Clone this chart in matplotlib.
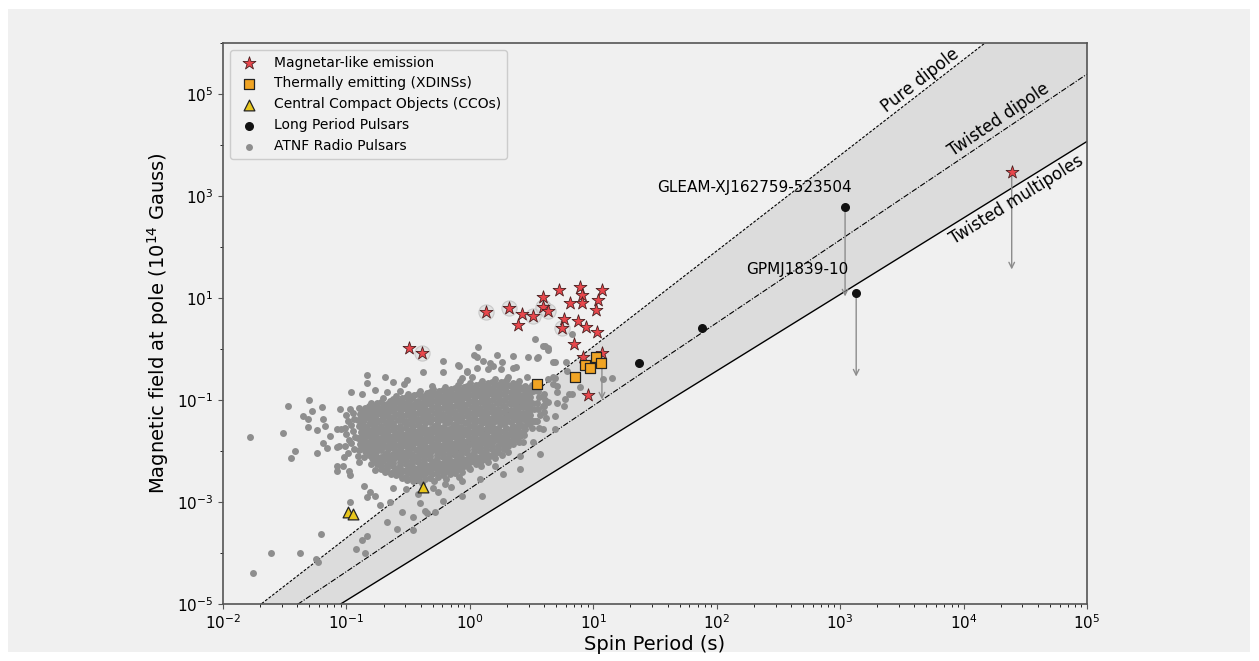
import numpy as np
import matplotlib.pyplot as plt
from matplotlib.patches import Rectangle
from matplotlib.ticker import LogLocator, NullFormatter

# all values as log10(P [s]) and log10(B [1e14 G])

# magnetar-like emitters
magnetar_logp = [-0.49, -0.39, 0.13, 0.32, 0.42, 0.39, 0.51, 0.59, 0.59, 0.63,
                 0.72, 0.81, 0.89, 0.91, 0.91, 1.07, 1.04, 1.02, 0.76, 0.75,
                 0.88, 0.94, 1.03, 0.84, 0.92, 1.07, 0.96, 4.39]
magnetar_logb = [0.01, -0.07, 0.72, 0.81, 0.68, 0.48, 0.64, 1.01, 0.83, 0.74,
                 1.15, 0.91, 1.21, 1.05, 0.91, 1.15, 0.97, 0.76, 0.58, 0.42,
                 0.54, 0.44, 0.33, 0.09, -0.15, -0.07, -0.91, 3.48]
magnetar_radio = [1, 2, 3, 6, 8, 9, 19]   # also in ATNF (grey halo)

# XDINSs
xdins_logp = [0.54, 0.85, 0.93, 0.97, 1.02, 1.06]
xdins_logb = [-0.69, -0.54, -0.32, -0.38, -0.16, -0.28]

# CCOs
cco_logp = [-0.99, -0.95, -0.38]
cco_logb = [-3.20, -3.24, -2.71]

# long period pulsars
lpp_logp = [1.37, 1.88, 3.04, 3.13]
lpp_logb = [-0.28, 0.42, 2.79, 1.09]
lpp_names = ['', '', 'GLEAM-XJ162759-523504', 'GPMJ1839-10']
name_logp = [3.09, 3.07]
name_logb = [3.16, 1.56]

# downward arrows (upper limits)
arrow_logp = [1.07, 3.04, 3.13, 4.39]
arrow_from = [-0.07, 2.79, 1.09, 3.48]
arrow_to = [-0.99, 1.03, -0.54, 1.56]

# death lines (end points at P = 1e-2 and 1e5 s)
line_logp = [-2.0, 5.0]
pure_dipole_logb = [-5.58, 7.55]
twisted_dipole_logb = [-5.99, 5.39]
twisted_multi_logb = [-6.43, 4.07]
line_label_logp = [3.70, 4.34, 4.38]
line_label_logb = [5.11, 4.31, 3.13]

# ATNF radio pulsars
atnf_pairs = [
    (-1.00, -1.30), (-0.99, -1.42), (-1.01, -1.54), (-1.00, -1.66), (-0.98, -1.78), (-1.01, -1.90),
    (-0.95, -1.25), (-0.94, -1.37), (-0.96, -1.49), (-0.95, -1.61), (-0.93, -1.73), (-0.96, -1.85), (-0.94, -1.97),
    (-0.90, -1.15), (-0.89, -1.27), (-0.91, -1.39), (-0.90, -1.51), (-0.88, -1.63), (-0.91, -1.75), (-0.89, -1.87), (-0.90, -1.99), (-0.91, -2.10),
    (-0.85, -1.16), (-0.84, -1.28), (-0.86, -1.40), (-0.85, -1.52), (-0.83, -1.64), (-0.86, -1.76), (-0.84, -1.88), (-0.85, -2.00), (-0.86, -2.12),
    (-0.80, -1.05), (-0.79, -1.17), (-0.81, -1.29), (-0.80, -1.41), (-0.78, -1.53), (-0.81, -1.65), (-0.79, -1.77), (-0.80, -1.89), (-0.81, -2.01), (-0.79, -2.13), (-0.80, -2.25),
    (-0.75, -1.06), (-0.74, -1.18), (-0.76, -1.30), (-0.75, -1.42), (-0.73, -1.54), (-0.76, -1.66), (-0.74, -1.78), (-0.75, -1.90), (-0.76, -2.02), (-0.74, -2.14), (-0.75, -2.26), (-0.77, -2.38),
    (-0.70, -0.97), (-0.69, -1.09), (-0.71, -1.21), (-0.70, -1.33), (-0.68, -1.45), (-0.71, -1.57), (-0.69, -1.69), (-0.70, -1.81), (-0.71, -1.93), (-0.69, -2.05), (-0.70, -2.17), (-0.72, -2.29), (-0.69, -2.41),
    (-0.65, -1.01), (-0.64, -1.13), (-0.66, -1.25), (-0.65, -1.37), (-0.63, -1.49), (-0.66, -1.61), (-0.64, -1.73), (-0.65, -1.85), (-0.66, -1.97), (-0.64, -2.09), (-0.65, -2.21), (-0.67, -2.33), (-0.64, -2.45),
    (-0.60, -0.92), (-0.59, -1.04), (-0.61, -1.16), (-0.60, -1.28), (-0.58, -1.40), (-0.61, -1.52), (-0.59, -1.64), (-0.60, -1.76), (-0.61, -1.88), (-0.59, -2.00), (-0.60, -2.12), (-0.62, -2.24), (-0.59, -2.36), (-0.60, -2.48),
    (-0.55, -0.96), (-0.54, -1.08), (-0.56, -1.20), (-0.55, -1.32), (-0.53, -1.44), (-0.56, -1.56), (-0.54, -1.68), (-0.55, -1.80), (-0.56, -1.92), (-0.54, -2.04), (-0.55, -2.16), (-0.57, -2.28), (-0.54, -2.40), (-0.55, -2.52),
    (-0.50, -0.88), (-0.49, -1.00), (-0.51, -1.12), (-0.50, -1.24), (-0.48, -1.36), (-0.51, -1.48), (-0.49, -1.60), (-0.50, -1.72), (-0.51, -1.84), (-0.49, -1.96), (-0.50, -2.08), (-0.52, -2.20), (-0.49, -2.32), (-0.50, -2.44), (-0.51, -2.56),
    (-0.45, -0.91), (-0.44, -1.03), (-0.46, -1.15), (-0.45, -1.27), (-0.43, -1.39), (-0.46, -1.51), (-0.44, -1.63), (-0.45, -1.75), (-0.46, -1.87), (-0.44, -1.99), (-0.45, -2.11), (-0.47, -2.23), (-0.44, -2.35), (-0.45, -2.47), (-0.46, -2.59),
    (-0.40, -0.83), (-0.39, -0.95), (-0.41, -1.07), (-0.40, -1.19), (-0.38, -1.31), (-0.41, -1.43), (-0.39, -1.55), (-0.40, -1.67), (-0.41, -1.79), (-0.39, -1.91), (-0.40, -2.03), (-0.42, -2.15), (-0.39, -2.27), (-0.40, -2.39), (-0.41, -2.51), (-0.39, -2.63),
    (-0.35, -0.86), (-0.34, -0.98), (-0.36, -1.10), (-0.35, -1.22), (-0.33, -1.34), (-0.36, -1.46), (-0.34, -1.58), (-0.35, -1.70), (-0.36, -1.82), (-0.34, -1.94), (-0.35, -2.06), (-0.37, -2.18), (-0.34, -2.30), (-0.35, -2.42), (-0.36, -2.54),
    (-0.30, -0.78), (-0.29, -0.90), (-0.31, -1.02), (-0.30, -1.14), (-0.28, -1.26), (-0.31, -1.38), (-0.29, -1.50), (-0.30, -1.62), (-0.31, -1.74), (-0.29, -1.86), (-0.30, -1.98), (-0.32, -2.10), (-0.29, -2.22), (-0.30, -2.34), (-0.31, -2.46), (-0.29, -2.58),
    (-0.25, -0.82), (-0.24, -0.94), (-0.26, -1.06), (-0.25, -1.18), (-0.23, -1.30), (-0.26, -1.42), (-0.24, -1.54), (-0.25, -1.66), (-0.26, -1.78), (-0.24, -1.90), (-0.25, -2.02), (-0.27, -2.14), (-0.24, -2.26), (-0.25, -2.38), (-0.26, -2.50),
    (-0.20, -0.74), (-0.19, -0.86), (-0.21, -0.98), (-0.20, -1.10), (-0.18, -1.22), (-0.21, -1.34), (-0.19, -1.46), (-0.20, -1.58), (-0.21, -1.70), (-0.19, -1.82), (-0.20, -1.94), (-0.22, -2.06), (-0.19, -2.18), (-0.20, -2.30), (-0.21, -2.42), (-0.19, -2.54),
    (-0.15, -0.78), (-0.14, -0.90), (-0.16, -1.02), (-0.15, -1.14), (-0.13, -1.26), (-0.16, -1.38), (-0.14, -1.50), (-0.15, -1.62), (-0.16, -1.74), (-0.14, -1.86), (-0.15, -1.98), (-0.17, -2.10), (-0.14, -2.22), (-0.15, -2.34), (-0.16, -2.46),
    (-0.10, -0.70), (-0.09, -0.82), (-0.11, -0.94), (-0.10, -1.06), (-0.08, -1.18), (-0.11, -1.30), (-0.09, -1.42), (-0.10, -1.54), (-0.11, -1.66), (-0.09, -1.78), (-0.10, -1.90), (-0.12, -2.02), (-0.09, -2.14), (-0.10, -2.26), (-0.11, -2.38), (-0.09, -2.50),
    (-0.05, -0.74), (-0.04, -0.86), (-0.06, -0.98), (-0.05, -1.10), (-0.03, -1.22), (-0.06, -1.34), (-0.04, -1.46), (-0.05, -1.58), (-0.06, -1.70), (-0.04, -1.82), (-0.05, -1.94), (-0.07, -2.06), (-0.04, -2.18), (-0.05, -2.30), (-0.06, -2.42),
    (0.00, -0.66), (0.01, -0.78), (-0.01, -0.90), (0.00, -1.02), (0.02, -1.14), (-0.01, -1.26), (0.01, -1.38), (0.00, -1.50), (-0.01, -1.62), (0.01, -1.74), (0.00, -1.86), (-0.02, -1.98), (0.01, -2.10), (0.00, -2.22), (-0.01, -2.34),
    (0.05, -0.70), (0.06, -0.82), (0.04, -0.94), (0.05, -1.06), (0.07, -1.18), (0.04, -1.30), (0.06, -1.42), (0.05, -1.54), (0.04, -1.66), (0.06, -1.78), (0.05, -1.90), (0.03, -2.02), (0.06, -2.14), (0.05, -2.26),
    (0.10, -0.62), (0.11, -0.74), (0.09, -0.86), (0.10, -0.98), (0.12, -1.10), (0.09, -1.22), (0.11, -1.34), (0.10, -1.46), (0.09, -1.58), (0.11, -1.70), (0.10, -1.82), (0.08, -1.94), (0.11, -2.06), (0.10, -2.18), (0.09, -2.30),
    (0.15, -0.66), (0.16, -0.78), (0.14, -0.90), (0.15, -1.02), (0.17, -1.14), (0.14, -1.26), (0.16, -1.38), (0.15, -1.50), (0.14, -1.62), (0.16, -1.74), (0.15, -1.86), (0.13, -1.98), (0.16, -2.10), (0.15, -2.22),
    (0.20, -0.58), (0.21, -0.70), (0.19, -0.82), (0.20, -0.94), (0.22, -1.06), (0.19, -1.18), (0.21, -1.30), (0.20, -1.42), (0.19, -1.54), (0.21, -1.66), (0.20, -1.78), (0.18, -1.90), (0.21, -2.02), (0.20, -2.14),
    (0.25, -0.64), (0.26, -0.76), (0.24, -0.88), (0.25, -1.00), (0.27, -1.12), (0.24, -1.24), (0.26, -1.36), (0.25, -1.48), (0.24, -1.60), (0.26, -1.72), (0.25, -1.84), (0.23, -1.96), (0.26, -2.08),
    (0.30, -0.58), (0.31, -0.70), (0.29, -0.82), (0.30, -0.94), (0.32, -1.06), (0.29, -1.18), (0.31, -1.30), (0.30, -1.42), (0.29, -1.54), (0.31, -1.66), (0.30, -1.78), (0.28, -1.90), (0.31, -2.02),
    (0.35, -0.66), (0.36, -0.78), (0.34, -0.90), (0.35, -1.02), (0.37, -1.14), (0.34, -1.26), (0.36, -1.38), (0.35, -1.50), (0.34, -1.62), (0.36, -1.74), (0.35, -1.86),
    (0.40, -0.62), (0.41, -0.74), (0.39, -0.86), (0.40, -0.98), (0.42, -1.10), (0.39, -1.22), (0.41, -1.34), (0.40, -1.46), (0.39, -1.58), (0.41, -1.70), (0.40, -1.82),
    (0.45, -0.72), (0.46, -0.84), (0.44, -0.96), (0.45, -1.08), (0.47, -1.20), (0.44, -1.32), (0.46, -1.44), (0.45, -1.56), (0.44, -1.68),
    (0.50, -0.70), (0.51, -0.82), (0.49, -0.94), (0.50, -1.06), (0.52, -1.18), (0.49, -1.30), (0.51, -1.42), (0.50, -1.54),
    (0.55, -0.82), (0.56, -0.94), (0.54, -1.06), (0.55, -1.18), (0.57, -1.30), (0.54, -1.42), (0.56, -1.54),
    (0.60, -0.88), (0.61, -1.00), (0.59, -1.12), (0.60, -1.24), (0.62, -1.36),
    # densest part, in between the above
    (-0.87, -1.22), (-0.87, -1.34), (-0.87, -1.46), (-0.87, -1.58), (-0.87, -1.70), (-0.87, -1.82), (-0.87, -1.94),
    (-0.82, -1.11), (-0.82, -1.23), (-0.82, -1.35), (-0.82, -1.47), (-0.82, -1.59), (-0.82, -1.71), (-0.82, -1.83), (-0.82, -1.95), (-0.82, -2.07),
    (-0.77, -1.12), (-0.77, -1.24), (-0.77, -1.36), (-0.77, -1.48), (-0.77, -1.60), (-0.77, -1.72), (-0.77, -1.84), (-0.77, -1.96), (-0.77, -2.08), (-0.77, -2.20),
    (-0.72, -1.03), (-0.72, -1.15), (-0.72, -1.27), (-0.72, -1.39), (-0.72, -1.51), (-0.72, -1.63), (-0.72, -1.75), (-0.72, -1.87), (-0.72, -1.99), (-0.72, -2.11), (-0.72, -2.23), (-0.72, -2.35),
    (-0.67, -1.07), (-0.67, -1.19), (-0.67, -1.31), (-0.67, -1.43), (-0.67, -1.55), (-0.67, -1.67), (-0.67, -1.79), (-0.67, -1.91), (-0.67, -2.03), (-0.67, -2.15), (-0.67, -2.27), (-0.67, -2.39),
    (-0.62, -0.98), (-0.62, -1.10), (-0.62, -1.22), (-0.62, -1.34), (-0.62, -1.46), (-0.62, -1.58), (-0.62, -1.70), (-0.62, -1.82), (-0.62, -1.94), (-0.62, -2.06), (-0.62, -2.18), (-0.62, -2.30), (-0.62, -2.42),
    (-0.57, -1.02), (-0.57, -1.14), (-0.57, -1.26), (-0.57, -1.38), (-0.57, -1.50), (-0.57, -1.62), (-0.57, -1.74), (-0.57, -1.86), (-0.57, -1.98), (-0.57, -2.10), (-0.57, -2.22), (-0.57, -2.34), (-0.57, -2.46),
    (-0.52, -0.94), (-0.52, -1.06), (-0.52, -1.18), (-0.52, -1.30), (-0.52, -1.42), (-0.52, -1.54), (-0.52, -1.66), (-0.52, -1.78), (-0.52, -1.90), (-0.52, -2.02), (-0.52, -2.14), (-0.52, -2.26), (-0.52, -2.38), (-0.52, -2.50),
    (-0.47, -0.97), (-0.47, -1.09), (-0.47, -1.21), (-0.47, -1.33), (-0.47, -1.45), (-0.47, -1.57), (-0.47, -1.69), (-0.47, -1.81), (-0.47, -1.93), (-0.47, -2.05), (-0.47, -2.17), (-0.47, -2.29), (-0.47, -2.41), (-0.47, -2.53),
    (-0.42, -0.89), (-0.42, -1.01), (-0.42, -1.13), (-0.42, -1.25), (-0.42, -1.37), (-0.42, -1.49), (-0.42, -1.61), (-0.42, -1.73), (-0.42, -1.85), (-0.42, -1.97), (-0.42, -2.09), (-0.42, -2.21), (-0.42, -2.33), (-0.42, -2.45), (-0.42, -2.57),
    (-0.37, -0.92), (-0.37, -1.04), (-0.37, -1.16), (-0.37, -1.28), (-0.37, -1.40), (-0.37, -1.52), (-0.37, -1.64), (-0.37, -1.76), (-0.37, -1.88), (-0.37, -2.00), (-0.37, -2.12), (-0.37, -2.24), (-0.37, -2.36), (-0.37, -2.48),
    (-0.32, -0.84), (-0.32, -0.96), (-0.32, -1.08), (-0.32, -1.20), (-0.32, -1.32), (-0.32, -1.44), (-0.32, -1.56), (-0.32, -1.68), (-0.32, -1.80), (-0.32, -1.92), (-0.32, -2.04), (-0.32, -2.16), (-0.32, -2.28), (-0.32, -2.40), (-0.32, -2.52),
    (-0.27, -0.88), (-0.27, -1.00), (-0.27, -1.12), (-0.27, -1.24), (-0.27, -1.36), (-0.27, -1.48), (-0.27, -1.60), (-0.27, -1.72), (-0.27, -1.84), (-0.27, -1.96), (-0.27, -2.08), (-0.27, -2.20), (-0.27, -2.32), (-0.27, -2.44),
    (-0.22, -0.80), (-0.22, -0.92), (-0.22, -1.04), (-0.22, -1.16), (-0.22, -1.28), (-0.22, -1.40), (-0.22, -1.52), (-0.22, -1.64), (-0.22, -1.76), (-0.22, -1.88), (-0.22, -2.00), (-0.22, -2.12), (-0.22, -2.24), (-0.22, -2.36), (-0.22, -2.48),
    (-0.17, -0.84), (-0.17, -0.96), (-0.17, -1.08), (-0.17, -1.20), (-0.17, -1.32), (-0.17, -1.44), (-0.17, -1.56), (-0.17, -1.68), (-0.17, -1.80), (-0.17, -1.92), (-0.17, -2.04), (-0.17, -2.16), (-0.17, -2.28), (-0.17, -2.40),
    (-0.12, -0.76), (-0.12, -0.88), (-0.12, -1.00), (-0.12, -1.12), (-0.12, -1.24), (-0.12, -1.36), (-0.12, -1.48), (-0.12, -1.60), (-0.12, -1.72), (-0.12, -1.84), (-0.12, -1.96), (-0.12, -2.08), (-0.12, -2.20), (-0.12, -2.32), (-0.12, -2.44),
    (-0.07, -0.80), (-0.07, -0.92), (-0.07, -1.04), (-0.07, -1.16), (-0.07, -1.28), (-0.07, -1.40), (-0.07, -1.52), (-0.07, -1.64), (-0.07, -1.76), (-0.07, -1.88), (-0.07, -2.00), (-0.07, -2.12), (-0.07, -2.24), (-0.07, -2.36),
    (-0.02, -0.72), (-0.02, -0.84), (-0.02, -0.96), (-0.02, -1.08), (-0.02, -1.20), (-0.02, -1.32), (-0.02, -1.44), (-0.02, -1.56), (-0.02, -1.68), (-0.02, -1.80), (-0.02, -1.92), (-0.02, -2.04), (-0.02, -2.16), (-0.02, -2.28),
    (0.03, -0.76), (0.03, -0.88), (0.03, -1.00), (0.03, -1.12), (0.03, -1.24), (0.03, -1.36), (0.03, -1.48), (0.03, -1.60), (0.03, -1.72), (0.03, -1.84), (0.03, -1.96), (0.03, -2.08), (0.03, -2.20),
    (0.08, -0.68), (0.08, -0.80), (0.08, -0.92), (0.08, -1.04), (0.08, -1.16), (0.08, -1.28), (0.08, -1.40), (0.08, -1.52), (0.08, -1.64), (0.08, -1.76), (0.08, -1.88), (0.08, -2.00), (0.08, -2.12), (0.08, -2.24),
    (0.13, -0.72), (0.13, -0.84), (0.13, -0.96), (0.13, -1.08), (0.13, -1.20), (0.13, -1.32), (0.13, -1.44), (0.13, -1.56), (0.13, -1.68), (0.13, -1.80), (0.13, -1.92), (0.13, -2.04), (0.13, -2.16),
    (0.18, -0.64), (0.18, -0.76), (0.18, -0.88), (0.18, -1.00), (0.18, -1.12), (0.18, -1.24), (0.18, -1.36), (0.18, -1.48), (0.18, -1.60), (0.18, -1.72), (0.18, -1.84), (0.18, -1.96), (0.18, -2.08),
    (0.23, -0.70), (0.23, -0.82), (0.23, -0.94), (0.23, -1.06), (0.23, -1.18), (0.23, -1.30), (0.23, -1.42), (0.23, -1.54), (0.23, -1.66), (0.23, -1.78), (0.23, -1.90), (0.23, -2.02),
    (0.28, -0.64), (0.28, -0.76), (0.28, -0.88), (0.28, -1.00), (0.28, -1.12), (0.28, -1.24), (0.28, -1.36), (0.28, -1.48), (0.28, -1.60), (0.28, -1.72), (0.28, -1.84), (0.28, -1.96),
    (0.33, -0.72), (0.33, -0.84), (0.33, -0.96), (0.33, -1.08), (0.33, -1.20), (0.33, -1.32), (0.33, -1.44), (0.33, -1.56), (0.33, -1.68), (0.33, -1.80),
    (0.38, -0.68), (0.38, -0.80), (0.38, -0.92), (0.38, -1.04), (0.38, -1.16), (0.38, -1.28), (0.38, -1.40), (0.38, -1.52), (0.38, -1.64), (0.38, -1.76),
    (0.43, -0.78), (0.43, -0.90), (0.43, -1.02), (0.43, -1.14), (0.43, -1.26), (0.43, -1.38), (0.43, -1.50), (0.43, -1.62),
    (0.48, -0.76), (0.48, -0.88), (0.48, -1.00), (0.48, -1.12), (0.48, -1.24), (0.48, -1.36), (0.48, -1.48),
    # outskirts
    (-1.76, -4.39), (-1.61, -4.00), (-1.38, -4.00), (-1.25, -4.12), (-1.23, -4.18), (-1.21, -3.63),
    (-0.92, -3.92), (-0.87, -3.75), (-0.85, -4.00), (-0.83, -3.67), (-0.67, -3.39), (-0.59, -3.53),
    (-0.46, -3.55), (-0.46, -3.30), (-0.35, -3.22), (-0.28, -3.20), (-0.55, -3.20), (-0.65, -3.00),
    (-0.73, -3.06), (-0.77, -2.88), (-0.83, -2.90), (-0.86, -2.69), (-0.81, -2.81), (-0.97, -3.00),
    (-0.97, -2.47), (-1.03, -2.30), (-1.08, -2.40), (-0.98, -2.40), (-0.90, -2.22), (-0.99, -2.04),
    (-1.08, -2.30), (-1.06, -1.91), (-1.02, -2.12), (-1.16, -1.95), (-1.19, -1.85), (-1.24, -2.04),
    (-1.45, -2.14), (-1.42, -2.00), (-1.51, -1.65), (-1.47, -1.12), (-1.35, -1.32), (-1.31, -1.38),
    (-1.30, -1.00), (-1.28, -1.22), (-1.31, -1.53), (-1.24, -1.59), (-1.20, -1.14), (-1.19, -1.38),
    (-1.17, -1.51), (-1.13, -1.71), (-1.08, -1.57), (-1.05, -1.18), (-1.04, -1.57), (-1.08, -1.93),
    (-1.78, -1.72), (-0.52, -2.75), (-0.42, -2.85), (-0.30, -2.72), (-0.15, -2.70), (-0.62, -2.72),
    (-0.40, -3.02), (-0.20, -2.64), (-0.97, -1.18), (-0.87, -0.89), (-0.67, -0.85), (-0.57, -0.83),
    (-0.96, -0.85), (-0.83, -0.50), (-0.83, -0.67), (-0.77, -0.81), (-0.69, -0.54), (-0.62, -0.65),
    (-0.51, -0.61), (-0.53, -0.69), (-0.38, -0.46), (-0.31, -0.73), (-0.22, -0.24), (-0.22, -0.46),
    (-0.10, -0.32), (-0.08, -0.63), (-0.02, -0.46), (0.03, -0.11), (0.07, 0.03), (0.11, -0.24),
    (0.19, -0.34), (0.22, -0.11), (0.26, -0.26), (0.35, -0.14), (0.37, -0.36), (0.46, -0.54),
    (0.47, -0.16), (0.53, 0.19), (0.59, 0.05), (0.55, -0.16), (-0.09, -0.34), (0.16, -0.28),
    (0.25, -0.40), (0.35, -0.38), (0.31, -0.54), (0.54, -0.18), (0.63, -0.01), (0.67, -0.26),
    (0.69, -0.26), (0.78, -0.26), (0.79, -0.44), (0.83, 0.29), (0.84, -0.59), (0.89, -0.75),
    (1.15, -0.56), (0.67, -0.54), (0.71, -0.73), (0.77, -0.99), (0.06, -0.38), (-0.02, -0.44),
    (0.06, -0.15), (0.15, -0.40), (-0.06, -0.56), (0.02, -0.54), (0.61, 0.05), (0.63, 0.01),
    (0.69, -0.56), (0.63, -0.59), (0.67, -0.69), (0.71, -0.85), (0.80, -0.89), (0.83, -0.89),
    (1.08, -0.58), (0.59, -0.93), (0.60, -1.12), (0.71, -1.06), (0.76, -1.12), (0.69, -1.32),
    (-0.06, -2.59), (0.08, -2.55), (0.00, -2.36), (0.11, -2.16), (0.20, -2.30), (0.27, -2.45),
    (0.10, -2.88), (-0.06, -2.88), (-0.22, -2.98), (-0.26, -2.81), (-0.36, -3.18), (0.31, -1.91),
    (0.41, -2.10), (0.43, -1.83), (0.51, -1.83), (0.53, -1.42), (0.59, -1.57), (0.63, -1.03),
    (0.41, -2.36), (0.57, -2.06), (0.69, -1.57),
]

atnf_logp, atnf_logb = np.array(atnf_pairs).T

W, H = 1259, 661
BG = '#f0f0f0'
fig = plt.figure(figsize=(W / 100, H / 100), dpi=100)
fig.patch.set_facecolor('white')
fig.add_artist(Rectangle((8 / W, 9 / H), (W - 17) / W, (H - 18) / H,
                         transform=fig.transFigure, facecolor=BG,
                         edgecolor='none', zorder=-10))
ax = fig.add_axes([223 / W, 57 / H, 864 / W, 561 / H])
ax.set_facecolor(BG)
ax.set_xscale('log')
ax.set_yscale('log')
ax.set_xlim(1e-2, 1e5)
ax.set_ylim(1e-5, 1e6)

lp = 10 ** np.array(line_logp)
ax.fill_between(lp, 10 ** np.array(twisted_multi_logb), 10 ** np.array(pure_dipole_logb),
                color='#dcdcdc', zorder=0, linewidth=0)
ax.plot(lp, 10 ** np.array(pure_dipole_logb), color='black', lw=0.8, ls=(0, (2.5, 1.5)), zorder=1)
ax.plot(lp, 10 ** np.array(twisted_dipole_logb), color='black', lw=0.8, ls=(0, (5, 1.5, 1, 1.5)), zorder=1)
ax.plot(lp, 10 ** np.array(twisted_multi_logb), color='black', lw=1.0, zorder=1)

ax.scatter(10 ** atnf_logp, 10 ** atnf_logb, s=25, color='#8e8e8e', linewidths=0,
           zorder=2, label='ATNF Radio Pulsars')

halo_p = [10 ** magnetar_logp[i] for i in magnetar_radio]
halo_b = [10 ** magnetar_logb[i] for i in magnetar_radio]
ax.scatter(halo_p, halo_b, s=120, facecolor='#d8d8d8', edgecolor='#b4b4b4',
           linewidths=0.8, alpha=0.6, zorder=3)

for p, b0, b1 in zip(arrow_logp, arrow_from, arrow_to):
    ax.annotate('', xy=(10 ** p, 10 ** b1), xytext=(10 ** p, 10 ** b0),
                arrowprops=dict(arrowstyle='->', color='#8c8c8c', lw=1.0,
                                shrinkA=0, shrinkB=0, mutation_scale=10),
                zorder=3)

ax.scatter(10 ** np.array(magnetar_logp), 10 ** np.array(magnetar_logb), marker='*', s=95,
           facecolor='#e8474c', edgecolor='#4a2020', linewidths=0.6, zorder=5,
           label='Magnetar-like emission')
ax.scatter(10 ** np.array(xdins_logp), 10 ** np.array(xdins_logb), marker='s', s=55,
           facecolor='#f0a424', edgecolor='#222222', linewidths=0.9, zorder=5,
           label='Thermally emitting (XDINSs)')
ax.scatter(10 ** np.array(cco_logp), 10 ** np.array(cco_logb), marker='^', s=60,
           facecolor='#e8c61c', edgecolor='#222222', linewidths=0.9, zorder=5,
           label='Central Compact Objects (CCOs)')
ax.scatter(10 ** np.array(lpp_logp), 10 ** np.array(lpp_logb), marker='o', s=30,
           color='#111111', zorder=5, label='Long Period Pulsars')

for name, p, b in zip(lpp_names[2:], name_logp, name_logb):
    ax.text(10 ** p, 10 ** b, name, ha='right', va='center', fontsize=11, zorder=6)


def screen_angle(logb):
    p0 = ax.transData.transform((lp[0], 10 ** logb[0]))
    p1 = ax.transData.transform((lp[1], 10 ** logb[1]))
    return np.degrees(np.arctan2(p1[1] - p0[1], p1[0] - p0[0]))


for txt, logb, p, b, va, d in [('Pure dipole', pure_dipole_logb, line_label_logp[0], line_label_logb[0], 'bottom', 1),
                                ('Twisted dipole', twisted_dipole_logb, line_label_logp[1], line_label_logb[1], 'bottom', 2),
                                ('Twisted multipoles', twisted_multi_logb, line_label_logp[2], line_label_logb[2], 'top', -2)]:
    ang = screen_angle(logb)
    th = np.radians(ang)
    ax.annotate(txt, xy=(10 ** p, 10 ** b), xytext=(-np.sin(th) * d, np.cos(th) * d),
                textcoords='offset points', rotation=ang, rotation_mode='anchor',
                ha='center', va=va, fontsize=12, zorder=6, annotation_clip=False)

ax.set_xticks(10.0 ** np.arange(-2, 6))
ax.xaxis.set_minor_locator(LogLocator(base=10, subs=np.arange(2, 10), numticks=20))
ax.xaxis.set_minor_formatter(NullFormatter())
ax.set_yticks(10.0 ** np.arange(-5, 6, 2))
ax.yaxis.set_minor_locator(LogLocator(base=10, subs=(1.0,), numticks=20))
ax.yaxis.set_minor_formatter(NullFormatter())
ax.tick_params(labelsize=11, color='#555555')
for s in ax.spines.values():
    s.set_color('#555555')
    s.set_linewidth(1.2)

ax.set_xlabel('Spin Period (s)', fontsize=14, labelpad=2)
ax.set_ylabel('Magnetic field at pole ($10^{14}$ Gauss)', fontsize=14)

handles, labels = ax.get_legend_handles_labels()
order = [1, 2, 3, 4, 0]
ax.legend([handles[i] for i in order], [labels[i] for i in order], loc='upper left',
          fontsize=10, facecolor=BG, edgecolor='#cccccc', framealpha=1)

fig.savefig('out.png', dpi=100, facecolor=fig.get_facecolor())
